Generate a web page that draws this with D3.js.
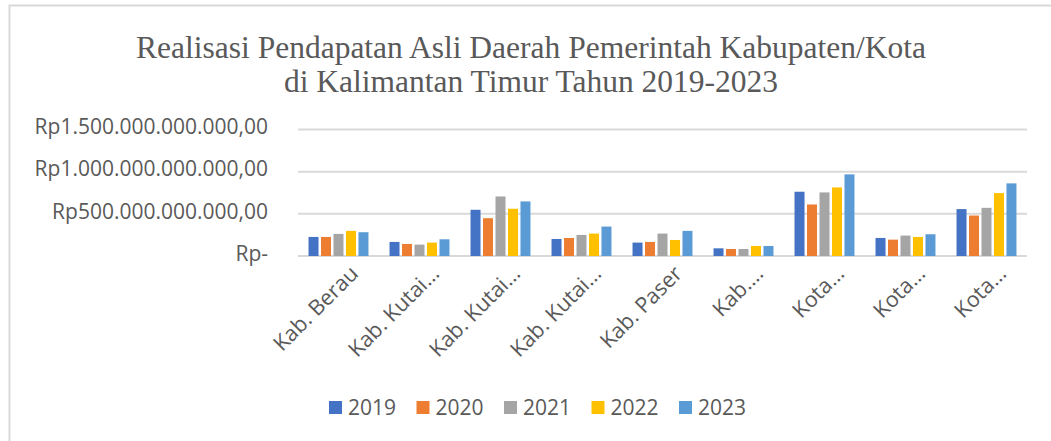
<!DOCTYPE html>
<html>
<head>
<meta charset="utf-8">
<script src="https://cdn.jsdelivr.net/npm/d3@7"></script>
<style>
  body { margin: 0; background: #fff; }
  svg { display: block; }
  .title { font-family: "Liberation Serif", "Times New Roman", serif; fill: #595959; }
  .lbl { font-family: "Open Sans", "Noto Sans", sans-serif; fill: #595959; }
</style>
</head>
<body>
<svg id="chart" width="1051" height="441"></svg>
<script>
let width = 1051,
  height = 441;

// nilai dalam miliar rupiah
let categories = ["Kab. Berau", "Kab. Kutai…", "Kab. Kutai…", "Kab. Kutai…", "Kab. Paser", "Kab.…", "Kota…", "Kota…", "Kota…"]
let years = ["2019", "2020", "2021", "2022", "2023"]
let pad2019 = [226, 167, 548, 202, 159, 91, 762, 214, 556]
let pad2020 = [226, 143, 448, 214, 167, 83, 611, 194, 480]
let pad2021 = [262, 135, 706, 250, 266, 83, 754, 242, 571]
let pad2022 = [298, 159, 560, 266, 190, 119, 813, 226, 746]
let pad2023 = [282, 198, 647, 349, 298, 119, 968, 258, 861]
let colors = ["#4472C4", "#ED7D31", "#A5A5A5", "#FFC000", "#5B9BD5"]
let yTicks = [0, 500, 1000, 1500]
let yTickLabels = ["Rp-", "Rp500.000.000.000,00", "Rp1.000.000.000.000,00", "Rp1.500.000.000.000,00"]

let series = [pad2019, pad2020, pad2021, pad2022, pad2023]

function make_rows() {
  return categories.map((c, i) => ({
    idx: i,
    values: years.map((y, j) => ({ year: y, value: series[j][i] }))
  }))
}

function make_scales() {
  let x0 = d3.scaleBand()
    .domain(d3.range(categories.length))
    .range([298, 1027])
    .paddingInner(0.26)
    .paddingOuter(0.13)
  return {
    x0: x0,
    x1: d3.scaleBand()
      .domain(years)
      .range([0, x0.bandwidth()])
      .paddingInner(0.2),
    y: d3.scaleLinear()
      .domain([0, 1500])
      .range([256, 129.5]),
    color: d3.scaleOrdinal().domain(years).range(colors)
  }
}

function draw() {
  let svg = d3.select("#chart")
  let scales = make_scales()
  let rows = make_rows()

  // frame (only top and left edges show)
  svg.append("rect")
    .attr("x", 9.5).attr("y", 5.5)
    .attr("width", 1200).attr("height", 600)
    .attr("fill", "none")
    .attr("stroke", "#d9d9d9")
    .attr("stroke-width", 2)

  let title = svg.append("text")
    .attr("class", "title")
    .attr("text-anchor", "middle")
    .attr("font-size", 31.5)
  title.append("tspan").attr("x", 531).attr("y", 58)
    .text("Realisasi Pendapatan Asli Daerah Pemerintah Kabupaten/Kota")
  title.append("tspan").attr("x", 531).attr("y", 92)
    .text("di Kalimantan Timur Tahun 2019-2023")

  // gridlines
  svg.append("g")
    .selectAll("line")
    .data(yTicks).enter()
    .append("line")
    .attr("x1", 298).attr("x2", 1027)
    .attr("y1", d => scales.y(d)).attr("y2", d => scales.y(d))
    .attr("stroke", "#d9d9d9")
    .attr("stroke-width", 2)

  let yAxis = d3.axisLeft(scales.y)
    .tickValues(yTicks)
    .tickFormat((d, i) => yTickLabels[i])
    .tickSize(0)
    .tickPadding(30)
  let gy = svg.append("g")
    .attr("transform", "translate(298,0)")
    .call(yAxis)
  gy.select(".domain").remove()
  gy.selectAll("text")
    .attr("class", "lbl")
    .attr("font-size", 21)
    .attr("dy", "0.2em")

  // bars
  svg.append("g")
    .selectAll("g")
    .data(rows).enter()
    .append("g")
    .attr("transform", d => "translate(" + scales.x0(d.idx) + ",0)")
    .selectAll("rect")
    .data(d => d.values).enter()
    .append("rect")
    .attr("x", d => scales.x1(d.year))
    .attr("width", scales.x1.bandwidth())
    .attr("y", d => scales.y(d.value))
    .attr("height", d => scales.y(0) - scales.y(d.value))
    .attr("fill", d => scales.color(d.year))

  // category labels
  let xAxis = d3.axisBottom(scales.x0)
    .tickFormat(i => categories[i])
    .tickSize(0)
    .tickPadding(0)
  let gx = svg.append("g")
    .attr("transform", "translate(0,256)")
    .call(xAxis)
  gx.select(".domain").remove()
  gx.selectAll("text")
    .attr("class", "lbl")
    .attr("font-size", 21.5)
    .attr("text-anchor", "end")
    .attr("dy", 0)
    .attr("transform", "translate(21,19) rotate(-45)")

  // legend
  let legend = svg.append("g")
    .selectAll("g")
    .data(years).enter()
    .append("g")
    .attr("transform", (d, i) => "translate(" + (329 + i * 87.5) + ",401)")
  legend.append("rect")
    .attr("width", 13).attr("height", 13)
    .attr("fill", d => scales.color(d))
  legend.append("text")
    .attr("class", "lbl")
    .attr("font-size", 21)
    .attr("x", 19).attr("y", 13.5)
    .text(d => d)
}

draw()
</script>
</body>
</html>
